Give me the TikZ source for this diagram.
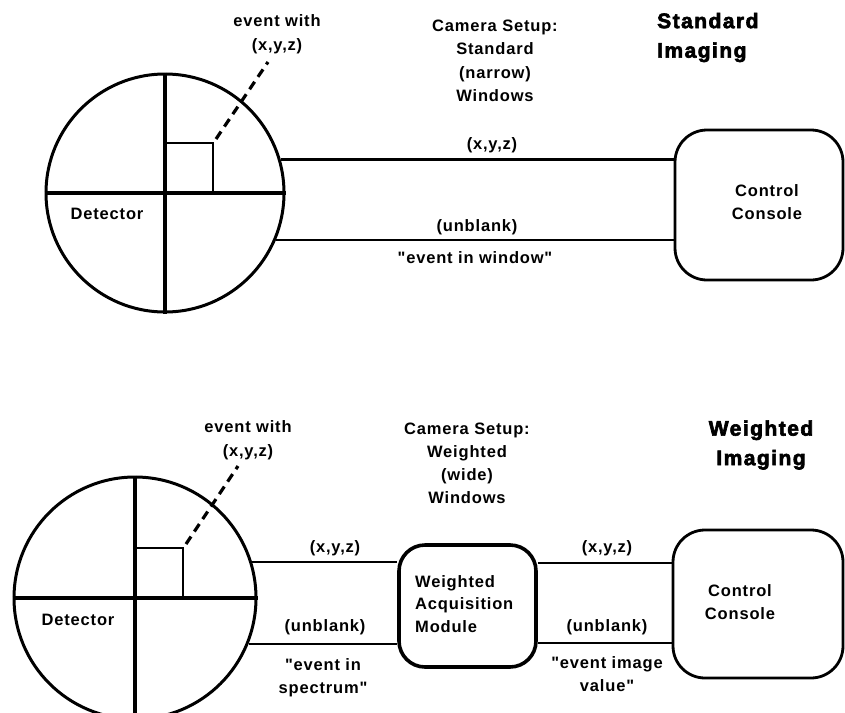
\documentclass[tikz,border=0pt]{standalone}
\usepackage{fontspec}
\setmainfont{Liberation Sans}
\newfontfamily\lblfont{Liberation Sans}[LetterSpace=5]
\newfontfamily\heavyfont{Liberation Sans}[LetterSpace=7,FakeBold=3]
\begin{document}
\begin{tikzpicture}[x=1pt,y=-1pt,
  lbl/.style={font=\lblfont\bfseries\fontsize{16.5}{23.5}\selectfont, inner sep=0pt, align=center},
  ttl/.style={font=\heavyfont\bfseries\fontsize{21}{29.5}\selectfont, inner sep=0pt},
  wire/.style={line width=2.6pt},
  crossline/.style={line width=3.4pt},
  detector/.style={circle, draw, line width=3pt, inner sep=0pt},
  console/.style={draw, line width=2.8pt, rounded corners=32pt, inner sep=0pt},
  module/.style={draw, line width=3.6pt, rounded corners=26pt, inner sep=0pt},
  leader/.style={line width=3.2pt, dash pattern=on 9pt off 6pt}]
\useasboundingbox (0,0) rectangle (845,712);
\clip (0,0) rectangle (845,712);

% ---------------- Standard imaging ----------------
\node[detector, minimum size=238pt] (det1) at (165,193) {};
\draw[crossline] (det1.north) -- (det1.south);
\draw[crossline] (det1.west) -- (det1.east);
\coordinate (sq1) at (213,143);
\draw[wire] (det1.center |- sq1) -- (sq1) -- (sq1 |- det1.center);
\node[lbl] (det1lbl) at (107,214) {Detector};
\node[lbl] (ev1) at (277,34) {event with\\(x,y,z)};
\coordinate (ev1end) at (268,62);
\draw[leader] (216,139) -- (ev1end);

\node[console, minimum width=168pt, minimum height=150pt] (con1) at (759,205) {};
\node[lbl] (con1lbl) at (767,202) {Control\\Console};

\draw[wire] (det1.16) -- (det1.16 -| con1.west);
\draw[wire] (det1.-23) -- (det1.-23 -| con1.west);

\node[lbl] (xyz1) at (492,145) {(x,y,z)};
\node[lbl] (unb1) at (477,227) {(unblank)};
\node[lbl] (win1) at (475,258) {"event in window"};
\node[lbl] (cam1) at (495,61) {Camera Setup:\\Standard\\(narrow)\\Windows};
\node[ttl, anchor=west, align=left] (ttl1) at (657,37.5) {Standard\\Imaging};

% ---------------- Weighted imaging ----------------
\node[detector, minimum size=242pt] (det2) at (135,598) {};
\draw[crossline] (det2.north) -- (det2.south);
\draw[crossline] (det2.west) -- (det2.east);
\coordinate (sq2) at (183,548);
\draw[wire] (det2.center |- sq2) -- (sq2) -- (sq2 |- det2.center);
\node[lbl] (det2lbl) at (78,620) {Detector};
\node[lbl] (ev2) at (248,440) {event with\\(x,y,z)};
\coordinate (ev2end) at (238,466);
\draw[leader] (186,544) -- (ev2end);

\node[module, minimum width=137pt, minimum height=122pt] (mod) at (467.5,606) {};
\node[lbl, align=left, anchor=west, font=\lblfont\bfseries\fontsize{16.5}{22.5}\selectfont] (modlbl) at (415,604) {Weighted\\Acquisition\\Module};

\node[console, minimum width=170pt, minimum height=148pt] (con2) at (758,604) {};
\node[lbl] (con2lbl) at (740,602) {Control\\Console};

\draw[wire] (det2.17) -- (det2.17 -| mod.west);
\draw[wire] (det2.-22) -- (det2.-22 -| mod.west);
\draw[wire] (mod.east |- 0,563) -- (con2.west |- 0,563);
\draw[wire] (mod.east |- 0,643) -- (con2.west |- 0,643);

\node[lbl] (xyz2) at (335,548) {(x,y,z)};
\node[lbl] (unb2) at (325,627) {(unblank)};
\node[lbl] (spec) at (323,677.5) {"event in\\spectrum"};
\node[lbl] (xyz3) at (607,548) {(x,y,z)};
\node[lbl] (unb3) at (607,627) {(unblank)};
\node[lbl] (val) at (607,674) {"event image\\value"};
\node[lbl, font=\lblfont\bfseries\fontsize{16.5}{23}\selectfont] (cam2) at (467,463.5) {Camera Setup:\\Weighted\\(wide)\\Windows};
\node[ttl, align=center] (ttl2) at (761,445) {Weighted\\Imaging};
\end{tikzpicture}
\end{document}
